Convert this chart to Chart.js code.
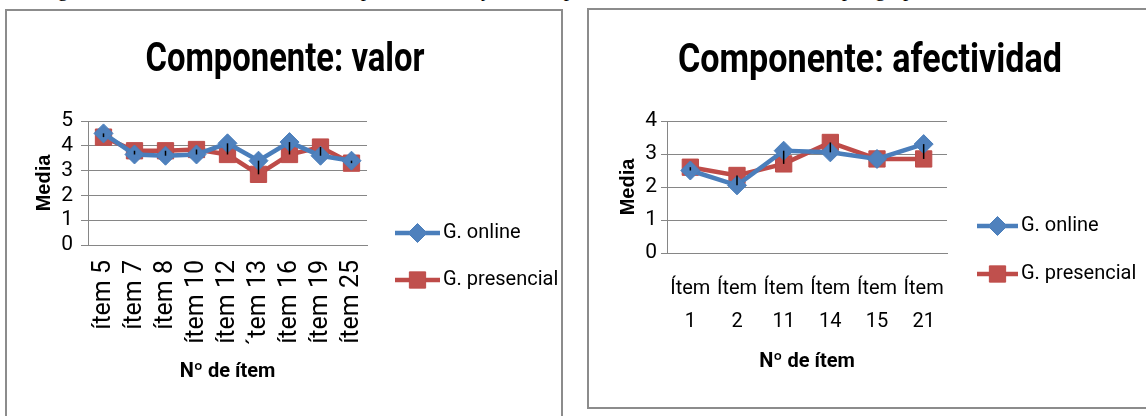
<!DOCTYPE html>
<html>
<head>
<meta charset="utf-8">
<script src="https://cdn.jsdelivr.net/npm/chart.js@4.4.1/dist/chart.umd.min.js"></script>
<style>
  body { margin: 0; width: 1146px; height: 416px; overflow: hidden; background: #fff; position: relative; }
  .caption { position: absolute; left: 0; top: 0; width: 1146px; height: 5px; overflow: hidden; }
  .caption span { position: absolute; left: 40px; top: -21px; font: 21px 'Liberation Serif', serif; line-height: 1; white-space: nowrap; color: #000; }
  .box { position: absolute; border: 2px solid #8c8c8c; box-sizing: border-box; }
  #box1 { left: 5px; top: 9px; width: 558px; height: 430px; }
  #box2 { left: 587px; top: 8px; width: 580px; height: 401px; }
  canvas { position: absolute; }
  #valorChart { left: 7px; top: 11px; }
  #afectChart { left: 589px; top: 10px; }
</style>
</head>
<body>
<div class="caption"><span>Figura 4. Medias de los ítems del componente valor y del componente afectividad de la actitud por grupo.</span></div>
<div class="box" id="box1"></div>
<div class="box" id="box2"></div>
<canvas id="valorChart" width="554" height="405"></canvas>
<canvas id="afectChart" width="557" height="397"></canvas>

<script>
// datos: componente valor
const valorItems = ['ítem 5', 'ítem 7', 'ítem 8', 'ítem 10', 'ítem 12', '´tem 13', 'ítem 16', 'ítem 19', 'ítem 25'];
const valorOnline = [4.5, 3.65, 3.6, 3.65, 4.1, 3.4, 4.15, 3.6, 3.4];
const valorPresencial = [4.35, 3.8, 3.8, 3.85, 3.65, 2.85, 3.65, 3.95, 3.3];

// datos: componente afectividad
const afectItems = [['Ítem', '1'], ['Ítem', '2'], ['Ítem', '11'], ['Ítem', '14'], ['Ítem', '15'], ['Ítem', '21']];
const afectOnline = [2.5, 2.05, 3.1, 3.05, 2.85, 3.3];
const afectPresencial = [2.6, 2.35, 2.7, 3.35, 2.85, 2.85];

const seriesNames = ['G. online', 'G. presencial'];

const FUENTE = "Roboto, 'Liberation Sans', Arial, sans-serif";
const GRIS = '#868686';

// titulo centrado y comprimido (tipo Calibri estrecha)
const boxTitle = {
    id: 'boxTitle',
    afterDraw(chart, args, opts) {
        const ctx = chart.ctx;
        ctx.save();
        ctx.font = 'bold ' + opts.size + 'px ' + FUENTE;
        ctx.fillStyle = '#000';
        ctx.textAlign = 'center';
        ctx.textBaseline = 'middle';
        ctx.fillText(opts.text, opts.x, opts.y, opts.width);
        ctx.restore();
    }
};

// lineas max-min entre las dos series (como en Excel)
const hiLoLines = {
    id: 'hiLoLines',
    afterDatasetsDraw(chart) {
        const a = chart.getDatasetMeta(0).data;
        const b = chart.getDatasetMeta(1).data;
        const ctx = chart.ctx;
        ctx.save();
        ctx.strokeStyle = '#000';
        ctx.lineWidth = 1.5;
        for (let j = 0; j < a.length; j++) {
            ctx.beginPath();
            ctx.moveTo(a[j].x, a[j].y);
            ctx.lineTo(a[j].x, b[j].y);
            ctx.stroke();
        }
        ctx.restore();
    }
};

// leyenda con linea + marcador
const lineLegend = {
    id: 'lineLegend',
    afterDraw(chart, args, opts) {
        const ctx = chart.ctx;
        ctx.save();
        chart.data.datasets.forEach((ds, i) => {
            const y = opts.top + i * opts.gap;
            ctx.strokeStyle = ds.borderColor;
            ctx.lineWidth = ds.borderWidth;
            ctx.beginPath();
            ctx.moveTo(opts.left, y);
            ctx.lineTo(opts.left + opts.length, y);
            ctx.stroke();
            ctx.fillStyle = ds.pointBackgroundColor;
            ctx.strokeStyle = ds.pointBorderColor;
            ctx.lineWidth = 1;
            Chart.helpers.drawPoint(ctx, { pointStyle: ds.pointStyle, radius: ds.pointRadius, borderWidth: 1 }, opts.left + opts.length / 2, y);
            ctx.fillStyle = '#000';
            ctx.font = opts.font;
            ctx.textBaseline = 'middle';
            ctx.fillText(ds.label, opts.left + opts.length + 3, y);
        });
        ctx.restore();
    }
};

function makeDatasets(online, presencial) {
    return [
        {
            label: seriesNames[0],
            data: online,
            borderColor: '#4A7EBB',
            borderWidth: 4.5,
            pointStyle: 'rectRot',
            pointRadius: 9.5,
            pointBackgroundColor: '#4F81BD',
            pointBorderColor: '#4A7EBB',
            pointBorderWidth: 1,
            tension: 0
        },
        {
            label: seriesNames[1],
            data: presencial,
            borderColor: '#BE4B48',
            borderWidth: 4.5,
            pointStyle: 'rect',
            pointRadius: 11.5,
            pointBackgroundColor: '#C0504D',
            pointBorderColor: '#BE4B48',
            pointBorderWidth: 1,
            tension: 0
        }
    ];
}

function drawCharts() {
    // grafico 1: valor
    new Chart(document.getElementById('valorChart'), {
        type: 'line',
        data: { labels: valorItems, datasets: makeDatasets(valorOnline, valorPresencial) },
        options: {
            responsive: false,
            animation: false,
            layout: { padding: { left: 10, right: 194, top: 110, bottom: 0 } },
            plugins: {
                legend: { display: false },
                tooltip: { enabled: false },
                boxTitle: { text: 'Componente: valor', size: 41, x: 278, y: 50, width: 279 },
                lineLegend: { left: 388, length: 45, top: 222, gap: 47, font: '20px ' + FUENTE }
            },
            scales: {
                x: {
                    offset: true,
                    grid: { display: false, drawTicks: false },
                    border: { display: true, color: GRIS, width: 1 },
                    ticks: { color: '#000', font: { family: FUENTE, size: 25 }, maxRotation: 90, minRotation: 90, padding: 15, autoSkip: false },
                    title: { display: true, text: 'Nº de ítem', color: '#000', font: { family: FUENTE, size: 20, weight: 'bold', lineHeight: 1.2 }, padding: { top: 0, bottom: 32 } },
                    afterFit(scale) { scale.height = 171; }
                },
                y: {
                    min: 0, max: 5,
                    ticks: { stepSize: 1, autoSkip: false, color: '#000', font: { family: FUENTE, size: 21 }, padding: 8 },
                    grid: { color: GRIS, lineWidth: 1, drawTicks: true, tickLength: 7, tickColor: GRIS },
                    border: { display: true, color: GRIS, width: 1 },
                    title: { display: true, text: 'Media', color: '#000', font: { family: "'Liberation Sans', Arial, sans-serif", size: 20, weight: 'bold', lineHeight: 1.2 }, padding: { top: 15, bottom: 0 } },
                    afterFit(scale) { scale.width = 71; }
                }
            }
        },
        plugins: [hiLoLines, lineLegend, boxTitle]
    });

    // grafico 2: afectividad
    new Chart(document.getElementById('afectChart'), {
        type: 'line',
        data: { labels: afectItems, datasets: makeDatasets(afectOnline, afectPresencial) },
        options: {
            responsive: false,
            animation: false,
            layout: { padding: { left: 10, right: 199, top: 111, bottom: 0 } },
            plugins: {
                legend: { display: false },
                tooltip: { enabled: false },
                boxTitle: { text: 'Componente: afectividad', size: 41, x: 281, y: 52, width: 384 },
                lineLegend: { left: 388, length: 41, top: 216, gap: 48, font: '20px ' + FUENTE }
            },
            scales: {
                x: {
                    offset: true,
                    grid: { display: false, drawTicks: false },
                    border: { display: true, color: GRIS, width: 1 },
                    ticks: { color: '#000', font: { family: FUENTE, size: 20, lineHeight: 1.65 }, maxRotation: 0, minRotation: 0, padding: 19, autoSkip: false },
                    title: { display: true, text: 'Nº de ítem', color: '#000', font: { family: FUENTE, size: 20, weight: 'bold', lineHeight: 1.2 }, padding: { top: 0, bottom: 33 } },
                    afterFit(scale) { scale.height = 154; }
                },
                y: {
                    min: 0, max: 4,
                    ticks: { stepSize: 1, autoSkip: false, color: '#000', font: { family: FUENTE, size: 21 }, padding: 4 },
                    grid: { color: GRIS, lineWidth: 1, drawTicks: true, tickLength: 6, tickColor: GRIS },
                    border: { display: true, color: GRIS, width: 1 },
                    title: { display: true, text: 'Media', color: '#000', font: { family: "'Liberation Sans', Arial, sans-serif", size: 20, weight: 'bold', lineHeight: 1.2 }, padding: { top: 17, bottom: 0 } },
                    afterFit(scale) { scale.width = 68; }
                }
            }
        },
        plugins: [hiLoLines, lineLegend, boxTitle]
    });
}

// esperar a que las fuentes esten cargadas antes de dibujar
Promise.all([
    document.fonts.load("bold 41px Roboto"),
    document.fonts.load("21px Roboto"),
    document.fonts.load("bold 20px 'Liberation Sans'")
]).then(drawCharts, drawCharts);
</script>
</body>
</html>
